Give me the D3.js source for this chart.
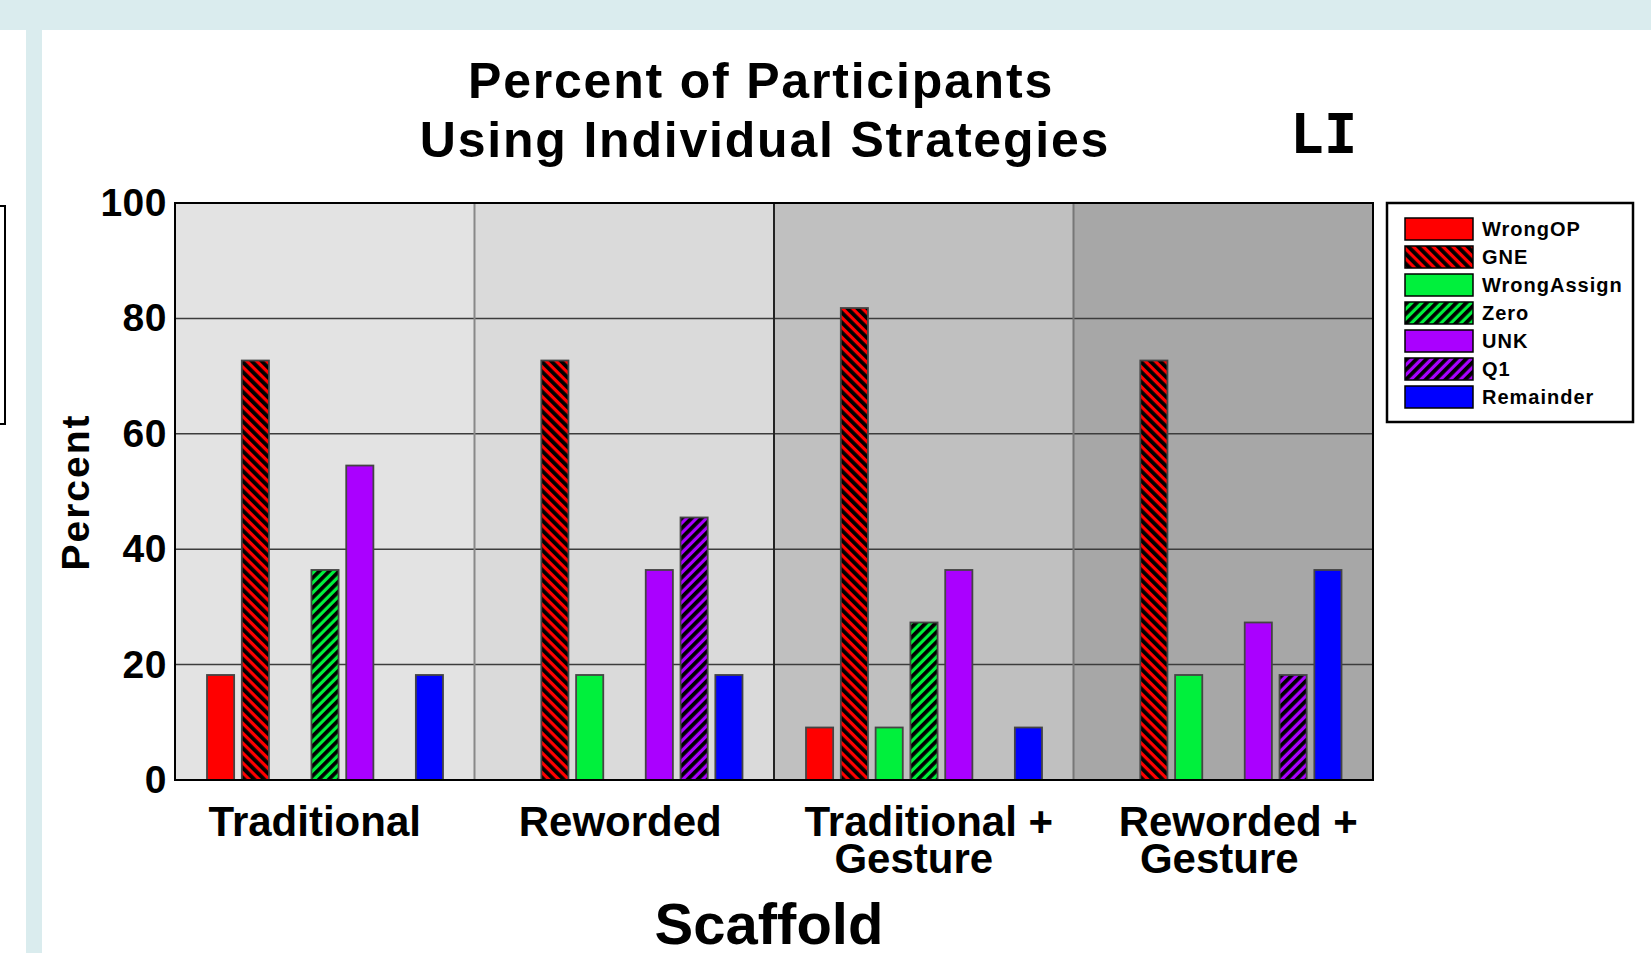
<!DOCTYPE html>
<html>
<head>
<meta charset="utf-8">
<script src="https://cdn.jsdelivr.net/npm/d3@7"></script>
<style>
  body { margin: 0; background: #fff; }
  text { font-family: "Liberation Sans", Arial, sans-serif; font-weight: bold; fill: #000; }
</style>
</head>
<body>
<div id="chart"></div>
<script>
// data
let categories = ["Traditional", "Reworded", "Traditional + Gesture", "Reworded + Gesture"];
let catLines = [["Traditional"], ["Reworded"], ["Traditional +", "Gesture"], ["Reworded +", "Gesture"]];
let strategies = ["WrongOP", "GNE", "WrongAssign", "Zero", "UNK", "Q1", "Remainder"];
let wrongOP = [18.2, 0, 9.1, 0];
let gne = [72.7, 72.7, 81.8, 72.7];
let wrongAssign = [0, 18.2, 9.1, 18.2];
let zero = [36.4, 0, 27.3, 0];
let unk = [54.5, 36.4, 36.4, 27.3];
let q1 = [0, 45.5, 0, 18.2];
let remainder = [18.2, 18.2, 9.1, 36.4];
let yTicks = [0, 20, 40, 60, 80, 100];

let series = [wrongOP, gne, wrongAssign, zero, unk, q1, remainder];
let colors = ["#ff0000", "#ff0000", "#00f03c", "#00f03c", "#aa00ff", "#aa00ff", "#0000ff"];
let hatch = [null, "back", null, "fwd", null, "fwd", null];
let groupBg = ["#e3e3e3", "#dadada", "#c0c0c0", "#a7a7a7"];

let W = 1651, H = 953;
let pLeft = 175, pRight = 1373, pTop = 203, pBottom = 780;
// small nudges of the category label lines, as in the original picture
let labelNudge = [[-10], [-4], [5, -10], [15, -4]];

let svg = d3.select("#chart").append("svg").attr("width", W).attr("height", H);

// page decoration
svg.append("rect").attr("x", 0).attr("y", 0).attr("width", W).attr("height", 30).attr("fill", "#daecee");
svg.append("rect").attr("x", 26).attr("y", 30).attr("width", 16).attr("height", H - 30).attr("fill", "#daecee");
svg.append("rect").attr("x", -10).attr("y", 206).attr("width", 15).attr("height", 218)
  .attr("fill", "none").attr("stroke", "#000").attr("stroke-width", 2);

// hatch patterns
let defs = svg.append("defs");
strategies.forEach(function (s, i) {
  if (!hatch[i]) return;
  let p = defs.append("pattern")
    .attr("id", "pat" + i)
    .attr("patternUnits", "userSpaceOnUse")
    .attr("width", 7).attr("height", 7)
    .attr("patternTransform", "rotate(" + (hatch[i] == "fwd" ? 45 : -45) + ")");
  p.append("rect").attr("width", 7).attr("height", 7).attr("fill", colors[i]);
  p.append("rect").attr("x", 0).attr("y", 0).attr("width", 3.8).attr("height", 7).attr("fill", "#000");
});
function fillOf(i) { return hatch[i] ? "url(#pat" + i + ")" : colors[i]; }

let x0 = d3.scaleBand().domain(categories).range([pLeft, pRight]).padding(0);
let x1 = d3.scaleBand().domain(strategies).range([32, 268]).paddingInner(0.22).paddingOuter(0);
let y = d3.scaleLinear().domain([0, 100]).range([pBottom, pTop]);

// group backgrounds
svg.selectAll("rect.bg")
  .data(categories)
  .enter()
  .append("rect")
  .attr("class", "bg")
  .attr("x", function (d) { return x0(d); })
  .attr("y", pTop)
  .attr("width", x0.bandwidth())
  .attr("height", pBottom - pTop)
  .attr("fill", function (d, i) { return groupBg[i]; });

// grid
svg.selectAll("line.grid")
  .data(yTicks.filter(function (t) { return t > 0 && t < 100; }))
  .enter()
  .append("line")
  .attr("x1", pLeft).attr("x2", pRight)
  .attr("y1", function (d) { return y(d); })
  .attr("y2", function (d) { return y(d); })
  .attr("stroke", "#3c3c3c")
  .attr("stroke-width", 1.5);

// group separators
let sepColor = ["#888", "#222", "#777"];
svg.selectAll("line.sep")
  .data(categories.slice(1))
  .enter()
  .append("line")
  .attr("x1", function (d) { return x0(d); })
  .attr("x2", function (d) { return x0(d); })
  .attr("y1", pTop).attr("y2", pBottom)
  .attr("stroke", function (d, i) { return sepColor[i]; })
  .attr("stroke-width", 2);

// bars
let groups = svg.selectAll("g.grp")
  .data(categories)
  .enter()
  .append("g")
  .attr("transform", function (d) { return "translate(" + x0(d) + ",0)"; });

groups.selectAll("rect")
  .data(function (d, gi) {
    return strategies.map(function (s, si) { return { s: s, si: si, v: series[si][gi] }; })
      .filter(function (b) { return b.v > 0; });
  })
  .enter()
  .append("rect")
  .attr("x", function (d) { return x1(d.s); })
  .attr("y", function (d) { return y(d.v); })
  .attr("width", x1.bandwidth())
  .attr("height", function (d) { return pBottom - y(d.v); })
  .attr("fill", function (d) { return fillOf(d.si); })
  .attr("stroke", "#444")
  .attr("stroke-width", 1.8);

// plot border
svg.append("rect")
  .attr("x", pLeft).attr("y", pTop)
  .attr("width", pRight - pLeft).attr("height", pBottom - pTop)
  .attr("fill", "none").attr("stroke", "#000").attr("stroke-width", 2);

// y axis
let yAxis = svg.append("g")
  .attr("transform", "translate(" + pLeft + ",0)")
  .call(d3.axisLeft(y).tickValues(yTicks).tickSize(0).tickPadding(8));
yAxis.select(".domain").remove();
yAxis.selectAll("text")
  .style("font-family", "'Liberation Sans', Arial, sans-serif")
  .style("font-weight", "bold")
  .style("font-size", "39px")
  .style("letter-spacing", "0.5px")
  .attr("fill", "#000");

// x axis
let xAxis = svg.append("g")
  .attr("transform", "translate(0," + pBottom + ")")
  .call(d3.axisBottom(x0).tickSize(0));
xAxis.select(".domain").remove();
xAxis.selectAll("text")
  .style("font-family", "'Liberation Sans', Arial, sans-serif")
  .style("font-weight", "bold")
  .style("font-size", "42px")
  .attr("fill", "#000")
  .attr("y", 56)
  .attr("dy", null)
  .text(null)
  .each(function (d, i) {
    let t = d3.select(this);
    catLines[i].forEach(function (ln, k) {
      t.append("tspan").attr("x", labelNudge[i][k]).attr("dy", k == 0 ? 0 : 37).text(ln);
    });
  });

// titles
let title = svg.append("text")
  .attr("text-anchor", "middle")
  .style("font-size", "50px")
  .style("letter-spacing", "1.8px");
title.append("tspan").attr("x", 761).attr("y", 98).text("Percent of Participants");
title.append("tspan").attr("x", 765).attr("y", 157).text("Using Individual Strategies");

svg.append("text")
  .attr("x", 1290).attr("y", 153)
  .style("font-family", "'DejaVu Sans Mono', monospace")
  .style("font-size", "56px")
  .text("LI");

svg.append("text")
  .attr("x", 769).attr("y", 944)
  .attr("text-anchor", "middle")
  .style("font-size", "58px")
  .text("Scaffold");

svg.append("text")
  .attr("transform", "translate(89,492) rotate(-90)")
  .attr("text-anchor", "middle")
  .style("font-size", "39px")
  .style("letter-spacing", "2px")
  .text("Percent");

// legend
let lg = svg.append("g");
lg.append("rect")
  .attr("x", 1387).attr("y", 203).attr("width", 246).attr("height", 219)
  .attr("fill", "#fff").attr("stroke", "#000").attr("stroke-width", 2.5);
let items = lg.selectAll("g.item")
  .data(strategies)
  .enter()
  .append("g")
  .attr("transform", function (d, i) { return "translate(1405," + (218 + i * 28) + ")"; });
items.append("rect")
  .attr("width", 68).attr("height", 22)
  .attr("fill", function (d, i) { return fillOf(i); })
  .attr("stroke", "#000").attr("stroke-width", 1.5);
items.append("text")
  .attr("x", 77).attr("y", 18)
  .style("font-size", "20px")
  .style("letter-spacing", "1px")
  .text(function (d) { return d; });
</script>
</body>
</html>
